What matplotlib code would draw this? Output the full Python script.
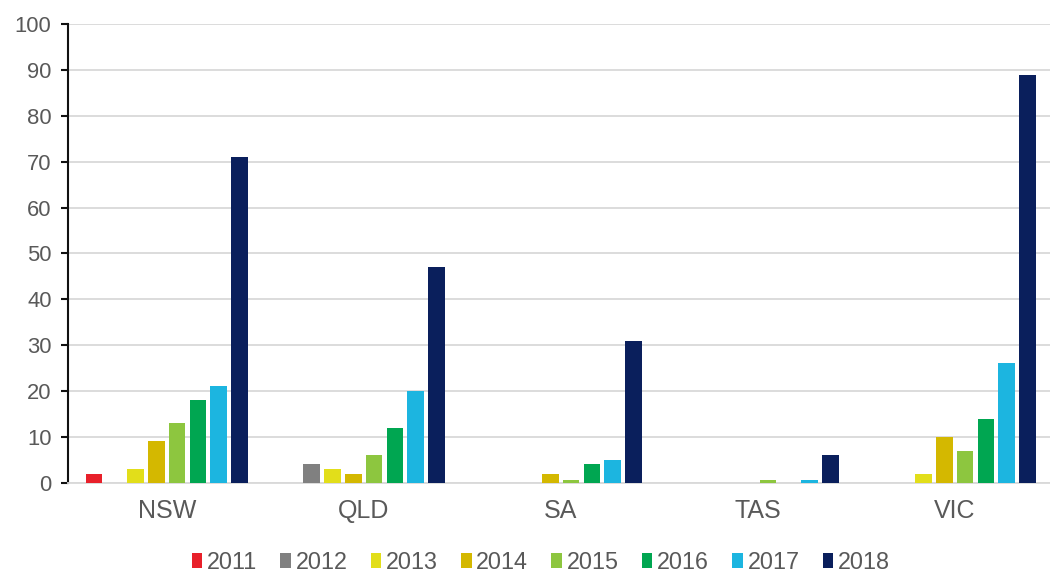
import matplotlib
matplotlib.use("Agg")
import matplotlib.pyplot as plt
import numpy as np

plt.rcParams['font.family'] = ['Liberation Sans', 'DejaVu Sans']

states = ["NSW", "QLD", "SA", "TAS", "VIC"]
years = ["2011", "2012", "2013", "2014", "2015", "2016", "2017", "2018"]
v2011 = [2, 0, 0, 0, 0]
v2012 = [0, 4, 0, 0, 0]
v2013 = [3, 3, 0, 0, 2]
v2014 = [9, 2, 2, 0, 10]
v2015 = [13, 6, 0.6, 0.5, 7]
v2016 = [18, 12, 4, 0, 14]
v2017 = [21, 20, 5, 0.5, 26]
v2018 = [71, 47, 31, 6, 89]
series = [v2011, v2012, v2013, v2014, v2015, v2016, v2017, v2018]
colors = ["#E8202A", "#808080", "#E2DE1A", "#D4B800", "#8DC63F", "#00A651", "#1CB5E0", "#0A1F5C"]
yticks = [0, 10, 20, 30, 40, 50, 60, 70, 80, 90, 100]

fig = plt.figure(figsize=(10.5, 5.74), dpi=100)
ax = fig.add_axes([0.065, 0.159, 0.938, 0.799])

x = np.arange(len(states))
step = 0.1056
width = 0.084
for i, (vals, c, yr) in enumerate(zip(series, colors, years)):
    ax.bar(x + (i - 3.5) * step, vals, width=width, color=c, label=yr, zorder=3)

ax.set_xlim(-0.5, len(states) - 0.5)
ax.set_ylim(0, 100)
ax.set_yticks(yticks)
ax.set_xticks(x)
ax.set_xticklabels(states)
ax.grid(axis='y', color='#D9D9D9', linewidth=1.3, zorder=0)
for s in ['top', 'right']:
    ax.spines[s].set_visible(False)
ax.spines['left'].set_color('#111111')
ax.spines['left'].set_linewidth(1.5)
ax.spines['bottom'].set_color('#D9D9D9')
ax.spines['bottom'].set_linewidth(1.3)
ax.tick_params(axis='y', direction='out', length=5, width=1.5, color='#111111',
               labelsize=15.8, labelcolor='#595959', pad=7)
ax.tick_params(axis='x', length=0, labelsize=18, labelcolor='#595959', pad=12)

leg = fig.legend(loc='center', bbox_to_anchor=(0.515, 0.02), ncol=8, frameon=False,
                 fontsize=16.8, handlelength=0.45, handleheight=0.6, handletextpad=0.2,
                 columnspacing=1.0)
for t in leg.get_texts():
    t.set_color('#595959')

fig.savefig("out.png", dpi=100)
